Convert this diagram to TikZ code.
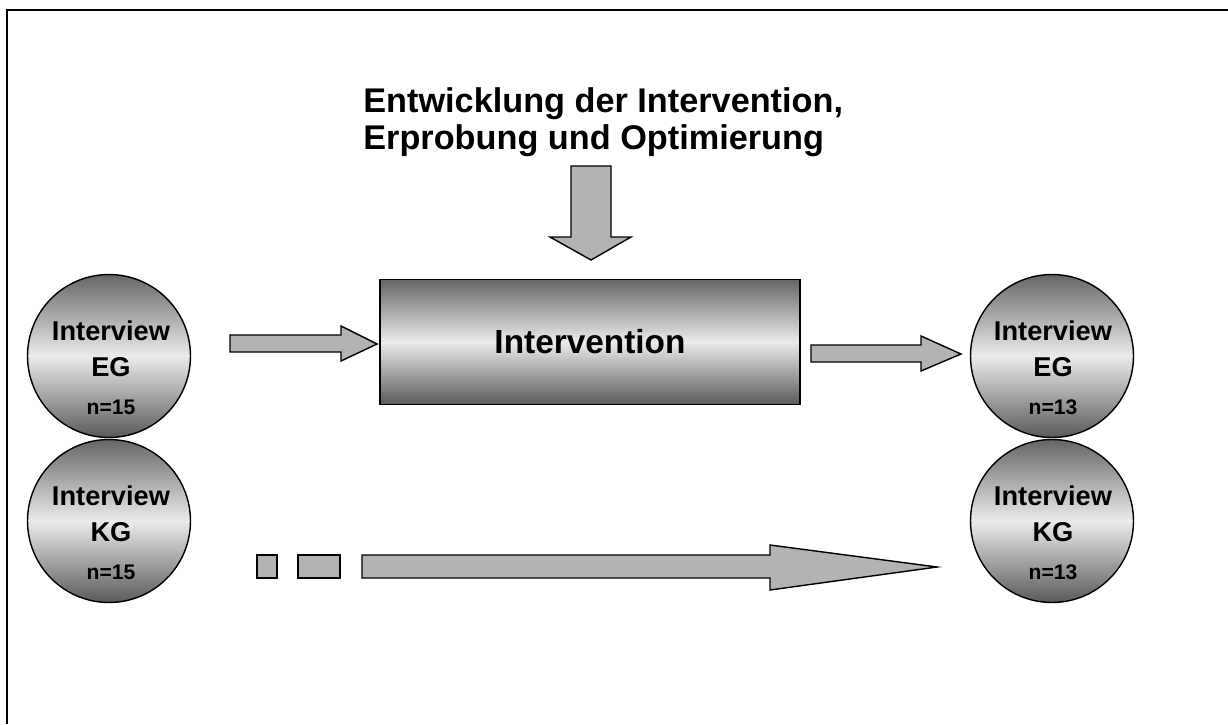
\documentclass[tikz,border=0pt]{standalone}
\usepackage{fontspec}
\setmainfont{Liberation Sans}
\definecolor{gtop}{HTML}{666666}
\definecolor{gmid}{HTML}{EBEBEB}
\definecolor{gbot}{HTML}{5A5A5A}
\definecolor{arrfill}{HTML}{B3B3B3}
\begin{document}
\begin{tikzpicture}[x=0.02cm,y=-0.02cm,
  frameline/.style={line width=1.3pt},
  circ/.style={circle,draw=black,line width=0.8pt,minimum size=3.26cm,inner sep=0pt,
    top color=gtop,bottom color=gbot,middle color=gmid},
  boxnode/.style={rectangle,draw=black,line width=0.8pt,minimum width=8.4cm,minimum height=2.5cm,inner sep=0pt,
    top color=gtop,bottom color=gbot,middle color=gmid,
    font=\bfseries\fontsize{19}{22}\selectfont},
  ctext/.style={anchor=north,inner sep=0pt,align=center,font=\bfseries\fontsize{15.5}{21}\selectfont},
  ttext/.style={anchor=north west,inner sep=0pt,align=left,font=\bfseries\fontsize{19.5}{21.5}\selectfont},
  blockarrow/.style={draw=black,line width=0.8pt,fill=arrfill,line join=miter}
]
\useasboundingbox (0,0) rectangle (1228,724);
% frame
\draw[frameline] (7,724) -- (7,10) -- (1228,10);

% title
\node[ttext] (ttl) at (363,87) {Entwicklung der Intervention,\\Erprobung und Optimierung};

% central box
\node[boxnode] (iv) at (590,342) {Intervention};

% circles
\node[circ] (egA) at (109,356) {};
\node[circ] (egB) at (1052,356) {};
\node[circ] (kgA) at (109,521) {};
\node[circ] (kgB) at (1052,521) {};

\node[ctext] (egAt) at (111,320) {Interview\\EG\\[0.5pt]{\fontsize{12}{12}\selectfont n=15}};
\node[ctext] (egBt) at (1053,320) {Interview\\EG\\[0.5pt]{\fontsize{12}{12}\selectfont n=13}};
\node[ctext] (kgAt) at (111,485) {Interview\\KG\\[0.5pt]{\fontsize{12}{12}\selectfont n=15}};
\node[ctext] (kgBt) at (1053,485) {Interview\\KG\\[0.5pt]{\fontsize{12}{12}\selectfont n=13}};

% down arrow: title -> box
\draw[blockarrow] (571,166) -- (611,166) -- (611,237) -- (631,237) -- (591,260) -- (550,237) -- (571,237) -- cycle;

% arrow egA -> box
\draw[blockarrow] (230,335) -- (341,335) -- (341,326) -- (377,344) -- (341,361) -- (341,352) -- (230,352) -- cycle;

% arrow box -> egB
\draw[blockarrow] (811,345) -- (921,345) -- (921,336) -- (961,354) -- (921,371) -- (921,362) -- (811,362) -- cycle;

% dashed block arrow kgA -> kgB
\draw[blockarrow] (257,555) rectangle (277,578);
\draw[blockarrow] (298,555) rectangle (340,578);
\draw[blockarrow] (362,555) -- (770,555) -- (770,545) -- (937,567) -- (770,590) -- (770,578) -- (362,578) -- cycle;
\end{tikzpicture}
\end{document}
